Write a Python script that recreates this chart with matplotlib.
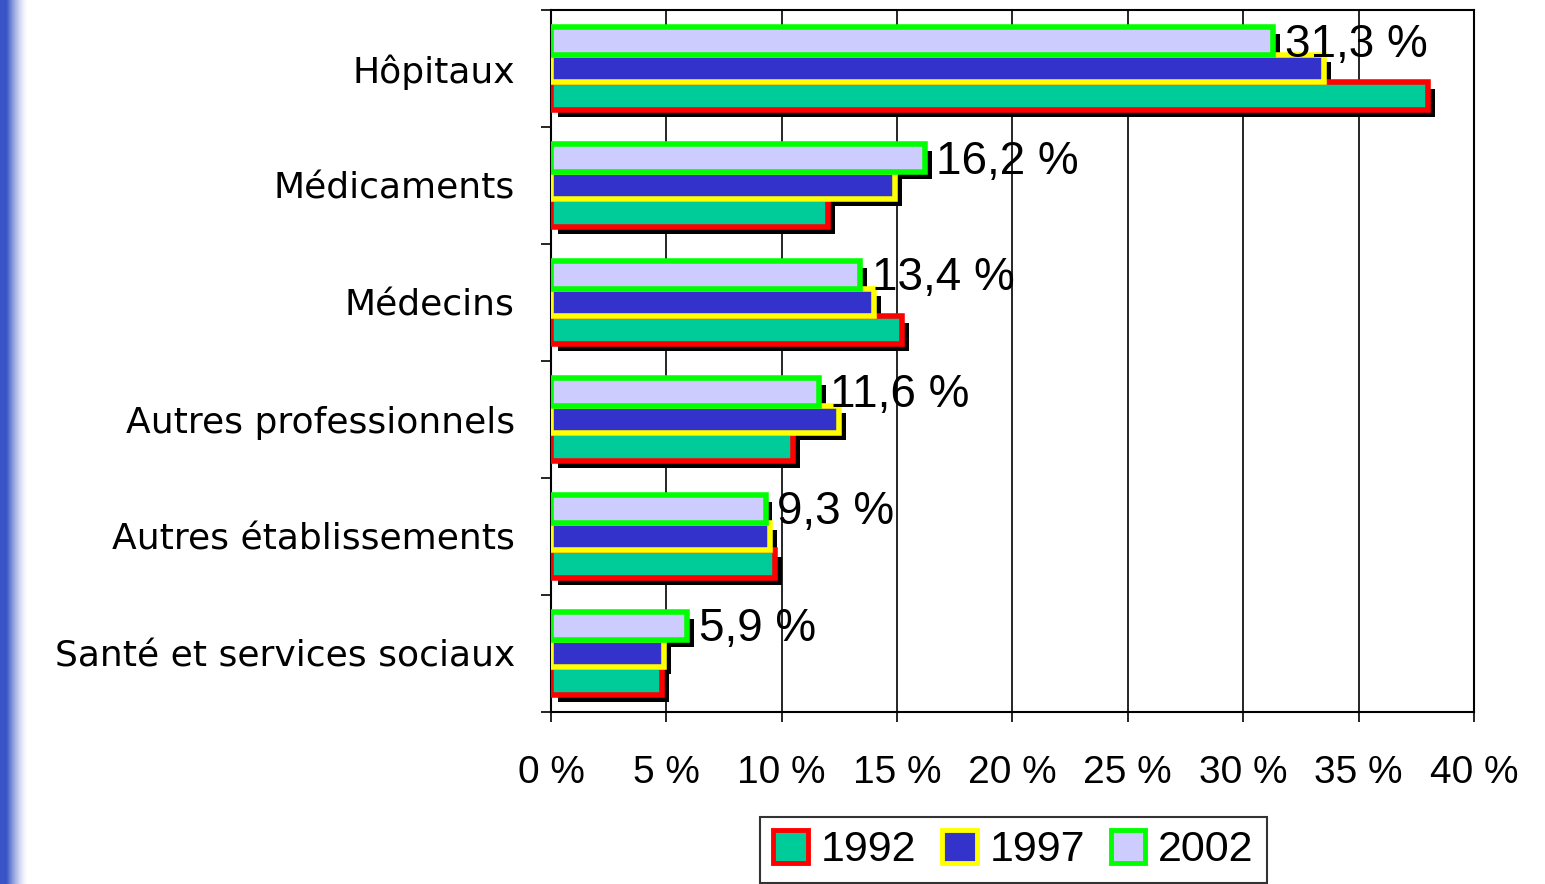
import matplotlib
matplotlib.use('Agg')
import matplotlib.pyplot as plt
import numpy as np
from matplotlib.patches import Patch

plt.rcParams['font.family'] = ['Liberation Sans Narrow', 'Liberation Sans', 'DejaVu Sans']

# --------------[DATA]----------------
categories = ['Hôpitaux', 'Médicaments', 'Médecins', 'Autres professionnels',
              'Autres établissements', 'Santé et services sociaux']
years = ['1992', '1997', '2002']
v1992 = [38.0, 12.0, 15.2, 10.5, 9.7, 4.8]
v1997 = [33.5, 14.9, 14.0, 12.5, 9.5, 4.9]
v2002 = [31.3, 16.2, 13.4, 11.6, 9.3, 5.9]
labels_2002 = ['31,3 %', '16,2 %', '13,4 %', '11,6 %', '9,3 %', '5,9 %']
xticks = np.arange(0, 45, 5)

fill_colors = ['#00CC99', '#3333CC', '#CCCCFF']
edge_colors = ['#FF0000', '#FFFF00', '#00FF00']

fig = plt.figure(figsize=(15.45, 8.84), dpi=100)

# blue strip on the left edge
strip = fig.add_axes([0, 0, 0.018, 1])
grad = np.zeros((10, 100, 4))
grad[..., 0] = 0.22
grad[..., 1] = 0.33
grad[..., 2] = 0.78
grad[..., 3] = np.clip(np.linspace(1.3, 0, 100), 0, 1) ** 1.5
strip.imshow(grad, aspect='auto', extent=[0, 1, 0, 1])
strip.axis('off')

ax = fig.add_axes([0.3566, 0.1946, 0.5974, 0.7941])

y = np.arange(len(categories))
h = 0.235
offsets = [h, 0, -h]  # 1992 bottom, 1997 middle, 2002 top
series = [v1992, v1997, v2002]
dx, dy = 0.3, 0.06

# shadows first
for vals, off in zip(series, offsets):
    ax.barh(y + off + dy, vals, height=h, left=dx, color='black', zorder=2)
for vals, off, fc, ec in zip(series, offsets, fill_colors, edge_colors):
    ax.barh(y + off, vals, height=h, color=fc, edgecolor=ec, linewidth=4, zorder=3)

for i, (v, lab) in enumerate(zip(v2002, labels_2002)):
    ax.text(v + 0.5, y[i] - h + 0.03, lab, va='center', ha='left', fontsize=33, zorder=4)

ax.set_xlim(0, 40)
ax.set_ylim(len(categories) - 0.5, -0.5)
ax.set_xticks(xticks)
ax.set_xticklabels([f'{t} %' for t in xticks], fontsize=28)
ax.tick_params(axis='x', direction='out', length=7, width=1.2, pad=24)
ax.set_yticks(y)
ax.set_yticklabels(categories, fontsize=26, family='DejaVu Sans')
ax.tick_params(axis='y', which='major', length=0, pad=26)
ax.set_yticks(np.arange(-0.5, len(categories), 1), minor=True)
ax.tick_params(axis='y', which='minor', direction='out', length=7, width=1.2)
ax.grid(axis='x', color='black', linewidth=1.2, zorder=1)
ax.set_axisbelow(True)
for s in ax.spines.values():
    s.set_linewidth(1.5)

handles = [Patch(facecolor=fc, edgecolor=ec, linewidth=3.5) for fc, ec in zip(fill_colors, edge_colors)]
leg = fig.legend(handles, years, loc='upper center', bbox_to_anchor=(0.656, 0.076), ncol=3,
                 fontsize=31, frameon=True, fancybox=False, edgecolor='black',
                 handlelength=0.8, handleheight=0.8, handletextpad=0.3, columnspacing=0.6,
                 borderpad=0.3, borderaxespad=0)
leg.get_frame().set_linewidth(1.5)

fig.savefig('out.png', dpi=100)
